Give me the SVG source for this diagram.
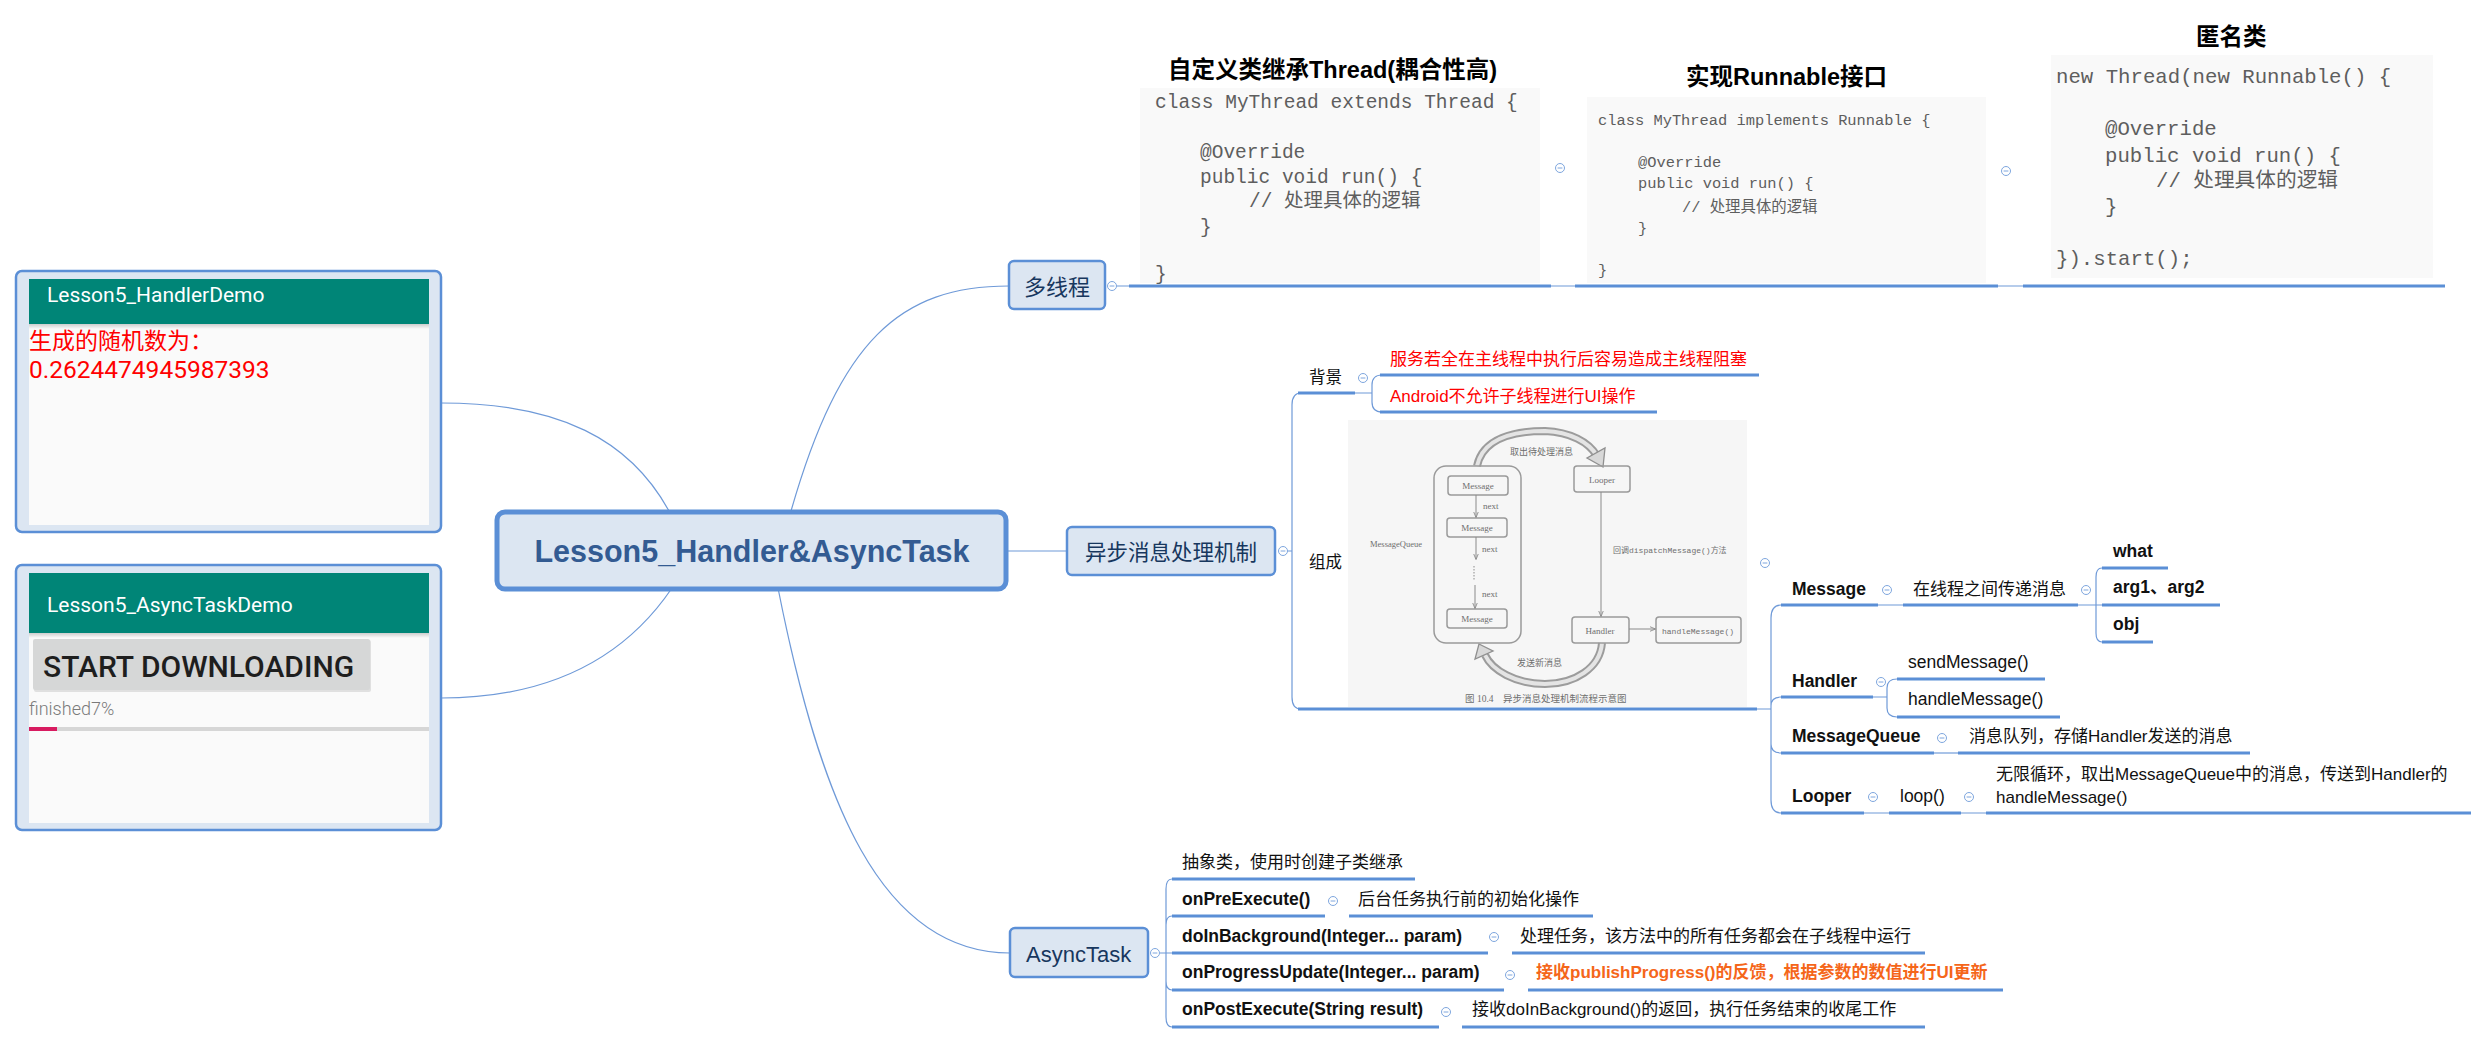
<svg xmlns="http://www.w3.org/2000/svg" width="2489" height="1044" viewBox="0 0 2489 1044">
<style>
text{font-family:"Liberation Sans","Noto Sans CJK SC",sans-serif;fill:#111}
.b{font-weight:bold}
.r17{font-size:17px}
.b17{font-size:17.5px;font-weight:bold}
.red{fill:#ff0000}
.code{font-family:"Liberation Mono","Noto Sans CJK SC",monospace;fill:#5e5e5e}
.ul{stroke:#5b8fd6;stroke-width:3;fill:none}
.ln{stroke:#6f9ad8;stroke-width:1.2;fill:none}
.node{fill:#dce6f2;stroke:#5b8fd6;stroke-width:2.5}
.ntx{fill:#17375e;font-size:22px}
.ttl{font-size:23.5px;font-weight:bold;fill:#000}
.shot{fill:#f9f9f9}
.img text{font-family:"Liberation Serif","Noto Sans CJK SC",serif;fill:#6e6e6e;font-size:9px}
.ib{fill:none;stroke:#9a9a9a;stroke-width:1.5}
.ia{stroke:#8a8a8a;stroke-width:1;marker-end:url(#ah)}
.rob{font-family:Roboto,"Noto Sans CJK SC",sans-serif}
</style>
<defs>
<g id="col"><circle r="4.5" fill="#fff" stroke="#7ea6de" stroke-width="1"/><line x1="-2.4" x2="2.4" y1="0" y2="0" stroke="#7ea6de" stroke-width="1"/></g>
<marker id="ah" viewBox="0 0 10 10" refX="9" refY="5" markerWidth="6" markerHeight="6" orient="auto"><path d="M0,1 L10,5 L0,9" fill="none" stroke="#8a8a8a" stroke-width="1.5"/></marker>
<linearGradient id="sh" x1="0" y1="0" x2="0" y2="1"><stop offset="0" stop-color="#000" stop-opacity="0.18"/><stop offset="1" stop-color="#000" stop-opacity="0"/></linearGradient>
</defs>

<!-- connectors -->
<g id="connectors">
<path class="ln" d="M441,403 C560,403 630,440 669,511"/>
<path class="ln" d="M441,698 C560,698 630,650 672,588"/>
<path class="ln" d="M791,511 C840,340 900,286 1009,286"/>
<path class="ln" d="M1006,551 L1067,551"/>
<path class="ln" d="M778,588 C820,800 880,953 1010,953"/>
<path class="ln" d="M1117,286 L1129,286 M1551,286 L1575,286 M1998,286 L2023,286"/>
<path class="ln" d="M1287,551 L1292,551 M1301,393 Q1292,393 1292,405 L1292,697 Q1292,709 1301,709"/>
<path class="ln" d="M1355,393 L1372,393 M1382,375 Q1372,375 1372,385 L1372,402 Q1372,412 1382,412"/>
<path class="ln" d="M1757,709 L1771,709 M1781,605 Q1771,605 1771,618 L1771,800 Q1771,813 1781,813 M1771,706 Q1771,697 1781,697 M1771,744 Q1771,753 1781,753"/>
<path class="ln" d="M1878,605 L1903,605 M2078,605 L2102,605 M2102,568 Q2096,568 2096,577 L2096,633 Q2096,642 2102,642"/>
<path class="ln" d="M1873,697 L1887,697 M1897,679 Q1887,679 1887,688 L1887,708 Q1887,717 1897,717"/>
<path class="ln" d="M1934,753 L1958,753"/>
<path class="ln" d="M1864,813 L1889,813 M1961,813 L1986,813"/>
<path class="ln" d="M1160,953 L1172,953 M1172,879 Q1166,879 1166,889 L1166,1017 Q1166,1027 1172,1027 M1166,925 Q1166,916 1172,916 M1166,981 Q1166,990 1172,990"/>
</g>

<!-- left card: HandlerDemo -->
<g id="card-handler">
<rect x="16" y="271" width="425" height="261" rx="6" fill="#dce6f2" stroke="#5b8fd6" stroke-width="2.5"/>
<rect x="29" y="279" width="400" height="246" fill="#fafafa"/>
<rect x="29" y="279" width="400" height="45" fill="#008577"/>
<rect x="29" y="324" width="400" height="5" fill="url(#sh)"/>
<text class="rob" x="47" y="302" style="font-size:21px;fill:#fff">Lesson5_HandlerDemo</text>
<text x="29" y="349" class="red" style="font-size:23px;font-family:'Noto Sans CJK SC',sans-serif">生成的随机数为：</text>
<text x="29" y="378" class="red rob" style="font-size:24.5px">0.2624474945987393</text>
</g>

<!-- left card: AsyncTaskDemo -->
<g id="card-async">
<rect x="16" y="565" width="425" height="265" rx="6" fill="#dce6f2" stroke="#5b8fd6" stroke-width="2.5"/>
<rect x="29" y="573" width="400" height="250" fill="#fafafa"/>
<rect x="29" y="573" width="400" height="60" fill="#008577"/>
<rect x="29" y="633" width="400" height="5" fill="url(#sh)"/>
<text class="rob" x="47" y="612" style="font-size:21px;fill:#fff">Lesson5_AsyncTaskDemo</text>
<rect x="34" y="640" width="337" height="52" rx="2" fill="#e0e0e0"/>
<rect x="33" y="639" width="337" height="51" rx="2" fill="#d6d7d7"/>
<text class="rob" x="43" y="677" style="font-size:30px;font-weight:500;fill:#1e1e1e">START DOWNLOADING</text>
<text class="rob" x="29" y="715" style="font-size:18px;fill:#7a7a7a;font-weight:300">finished7%</text>
<rect x="29" y="727" width="400" height="4" fill="#d6d6d6"/>
<rect x="29" y="727" width="28" height="4" fill="#d81b60"/>
</g>

<!-- central topic -->
<g id="root">
<rect x="497" y="512" width="509" height="77" rx="8" fill="#dce6f2" stroke="#5b8fd6" stroke-width="5"/>
<text x="752" y="562" text-anchor="middle" class="b" style="font-size:30.5px;fill:#335b92">Lesson5_Handler&amp;AsyncTask</text>
</g>

<!-- 多线程 -->
<g id="node-multithread">
<rect class="node" x="1009" y="261" width="96" height="48" rx="5"/>
<text class="ntx" x="1057" y="295" text-anchor="middle">多线程</text>
<use href="#col" x="1112" y="286"/>
</g>

<g id="node-thread-extends">
<text class="ttl" x="1168" y="78">自定义类继承Thread(耦合性高)</text>
<rect class="shot" x="1140" y="88" width="400" height="195"/>
<g style="font-size:19.5px">
<text class="code" x="1155" y="108">class MyThread extends Thread {</text>
<text class="code" x="1200" y="158">@Override</text>
<text class="code" x="1200" y="183">public void run() {</text>
<text class="code" x="1249" y="207">// 处理具体的逻辑</text>
<text class="code" x="1200" y="233">}</text>
<text class="code" x="1155" y="280">}</text>
</g>
<line class="ul" x1="1129" y1="286" x2="1551" y2="286"/>
<use href="#col" x="1560" y="168"/>
</g>

<g id="node-runnable">
<text class="ttl" x="1686" y="85">实现Runnable接口</text>
<rect class="shot" x="1587" y="97" width="399" height="186"/>
<g style="font-size:15.4px">
<text class="code" x="1598" y="125">class MyThread implements Runnable {</text>
<text class="code" x="1638" y="167">@Override</text>
<text class="code" x="1638" y="188">public void run() {</text>
<text class="code" x="1682" y="212">// 处理具体的逻辑</text>
<text class="code" x="1638" y="233">}</text>
<text class="code" x="1598" y="275">}</text>
</g>
<line class="ul" x1="1575" y1="286" x2="1998" y2="286"/>
<use href="#col" x="2006" y="171"/>
</g>

<g id="node-anonymous">
<text class="ttl" x="2196" y="45">匿名类</text>
<rect class="shot" x="2051" y="55" width="382" height="223"/>
<g style="font-size:20.7px">
<text class="code" x="2056" y="83">new Thread(new Runnable() {</text>
<text class="code" x="2105" y="135">@Override</text>
<text class="code" x="2105" y="162">public void run() {</text>
<text class="code" x="2156" y="187">// 处理具体的逻辑</text>
<text class="code" x="2105" y="213">}</text>
<text class="code" x="2056" y="265">}).start();</text>
</g>
<line class="ul" x1="2023" y1="286" x2="2445" y2="286"/>
</g>

<!-- 异步消息处理机制 -->
<g id="node-async-msg">
<rect class="node" x="1067" y="527" width="208" height="48" rx="5"/>
<text class="ntx" x="1171" y="560" text-anchor="middle" style="font-size:21.5px">异步消息处理机制</text>
<use href="#col" x="1283" y="551"/>
</g>

<g id="node-background">
<text x="1309" y="383" style="font-size:16.5px">背景</text>
<line class="ul" x1="1298" y1="393" x2="1355" y2="393"/>
<use href="#col" x="1363" y="378"/>
</g>
<g id="node-bg1">
<text x="1390" y="365" class="r17 red">服务若全在主线程中执行后容易造成主线程阻塞</text>
<line class="ul" x1="1380" y1="375" x2="1759" y2="375"/>
</g>
<g id="node-bg2">
<text x="1390" y="402" class="r17 red">Android不允许子线程进行UI操作</text>
<line class="ul" x1="1380" y1="412" x2="1657" y2="412"/>
</g>

<g id="node-compose">
<text x="1309" y="568" style="font-size:16.5px">组成</text>
<g class="img">
<rect x="1348" y="420" width="399" height="287" fill="#f6f6f6"/>
<path d="M1477,466 C1483,438 1515,431 1545,431 C1570,432 1589,442 1597,456" fill="none" stroke="#9c9c9c" stroke-width="8"/>
<path d="M1477,466 C1483,438 1515,431 1545,431 C1570,432 1589,442 1597,456" fill="none" stroke="#e4e4e4" stroke-width="4"/>
<polygon points="1603,467 1605,448 1587,458" fill="#d8d8d8" stroke="#8f8f8f" stroke-width="1.3"/>
<path d="M1602,643 C1600,668 1575,684 1545,684 C1515,684 1492,670 1485,655" fill="none" stroke="#9c9c9c" stroke-width="8"/>
<path d="M1602,643 C1600,668 1575,684 1545,684 C1515,684 1492,670 1485,655" fill="none" stroke="#e4e4e4" stroke-width="4"/>
<polygon points="1479,644 1493,651 1475,659" fill="#d8d8d8" stroke="#8f8f8f" stroke-width="1.3"/>
<rect class="ib" x="1434" y="466" width="87" height="177" rx="12"/>
<rect class="ib" x="1448" y="476" width="60" height="19" rx="3"/>
<rect class="ib" x="1447" y="518" width="60" height="19" rx="3"/>
<rect class="ib" x="1447" y="609" width="60" height="19" rx="3"/>
<text x="1478" y="489" text-anchor="middle">Message</text>
<text x="1477" y="531" text-anchor="middle">Message</text>
<text x="1477" y="622" text-anchor="middle">Message</text>
<line class="ia" x1="1476" y1="495" x2="1476" y2="517"/>
<line class="ia" x1="1476" y1="537" x2="1476" y2="559"/>
<line x1="1474" y1="566" x2="1474" y2="580" stroke="#8a8a8a" stroke-dasharray="1.5 1.5"/>
<line class="ia" x1="1475" y1="585" x2="1475" y2="608"/>
<text x="1483" y="509">next</text>
<text x="1482" y="552">next</text>
<text x="1482" y="597">next</text>
<text x="1370" y="547" style="font-size:8.5px">MessageQueue</text>
<rect class="ib" x="1574" y="466" width="56" height="26" rx="3"/>
<text x="1602" y="483" text-anchor="middle">Looper</text>
<rect class="ib" x="1572" y="617" width="57" height="26" rx="3"/>
<text x="1600" y="634" text-anchor="middle">Handler</text>
<rect class="ib" x="1656" y="617" width="85" height="26" rx="3"/>
<text x="1698" y="634" text-anchor="middle" style="font-family:'Liberation Mono',monospace;font-size:8px">handleMessage()</text>
<line class="ia" x1="1601" y1="492" x2="1601" y2="616"/>
<line class="ia" x1="1629" y1="629" x2="1655" y2="629"/>
<text x="1613" y="553" style="font-size:8px">回调<tspan style="font-family:'Liberation Mono',monospace">dispatchMessage()</tspan>方法</text>
<text x="1510" y="455">取出待处理消息</text>
<text x="1517" y="666">发送新消息</text>
<text x="1465" y="702" style="font-size:9.5px">图 10.4　异步消息处理机制流程示意图</text>
</g>
<line class="ul" x1="1298" y1="709" x2="1757" y2="709"/>
<use href="#col" x="1765" y="563"/>
</g>

<g id="node-message">
<text class="b17" x="1792" y="595">Message</text>
<line class="ul" x1="1781" y1="605" x2="1878" y2="605"/>
<use href="#col" x="1887" y="590"/>
</g>
<g id="node-message-desc">
<text class="r17" x="1913" y="595">在线程之间传递消息</text>
<line class="ul" x1="1903" y1="605" x2="2078" y2="605"/>
<use href="#col" x="2086" y="590"/>
</g>
<g id="node-what"><text class="b17" x="2113" y="557">what</text><line class="ul" x1="2102" y1="568" x2="2168" y2="568"/></g>
<g id="node-arg"><text class="b17" x="2113" y="593">arg1、arg2</text><line class="ul" x1="2102" y1="605" x2="2220" y2="605"/></g>
<g id="node-obj"><text class="b17" x="2113" y="630">obj</text><line class="ul" x1="2102" y1="642" x2="2153" y2="642"/></g>

<g id="node-handler">
<text class="b17" x="1792" y="687">Handler</text>
<line class="ul" x1="1781" y1="697" x2="1873" y2="697"/>
<use href="#col" x="1881" y="682"/>
</g>
<g id="node-send"><text class="r17" x="1908" y="668" style="font-size:17.5px">sendMessage()</text><line class="ul" x1="1897" y1="679" x2="2045" y2="679"/></g>
<g id="node-handle"><text class="r17" x="1908" y="705" style="font-size:17.5px">handleMessage()</text><line class="ul" x1="1897" y1="717" x2="2060" y2="717"/></g>

<g id="node-mq">
<text class="b17" x="1792" y="742">MessageQueue</text>
<line class="ul" x1="1781" y1="753" x2="1934" y2="753"/>
<use href="#col" x="1942" y="738"/>
</g>
<g id="node-mq-desc"><text class="r17" x="1969" y="742">消息队列，存储Handler发送的消息</text><line class="ul" x1="1958" y1="753" x2="2250" y2="753"/></g>

<g id="node-looper">
<text class="b17" x="1792" y="802">Looper</text>
<line class="ul" x1="1781" y1="813" x2="1864" y2="813"/>
<use href="#col" x="1873" y="797"/>
</g>
<g id="node-loop">
<text class="r17" x="1900" y="802" style="font-size:17.5px">loop()</text>
<line class="ul" x1="1889" y1="813" x2="1961" y2="813"/>
<use href="#col" x="1969" y="797"/>
</g>
<g id="node-loop-desc">
<text class="r17" x="1996" y="780">无限循环，取出MessageQueue中的消息，传送到Handler的</text>
<text class="r17" x="1996" y="803">handleMessage()</text>
<line class="ul" x1="1986" y1="813" x2="2471" y2="813"/>
</g>

<!-- AsyncTask -->
<g id="node-asynctask">
<rect class="node" x="1010" y="928" width="138" height="49" rx="5"/>
<text class="ntx" x="1026" y="962">AsyncTask</text>
<use href="#col" x="1155" y="953"/>
</g>
<g id="node-abstract"><text class="r17" x="1182" y="868">抽象类，使用时创建子类继承</text><line class="ul" x1="1172" y1="879" x2="1415" y2="879"/></g>
<g id="node-pre">
<text class="b17" x="1182" y="905">onPreExecute()</text>
<line class="ul" x1="1172" y1="916" x2="1325" y2="916"/>
<use href="#col" x="1333" y="901"/>
</g>
<g id="node-pre-desc"><text class="r17" x="1358" y="905">后台任务执行前的初始化操作</text><line class="ul" x1="1349" y1="916" x2="1593" y2="916"/></g>
<g id="node-bg">
<text class="b17" x="1182" y="942">doInBackground(Integer... param)</text>
<line class="ul" x1="1172" y1="953" x2="1488" y2="953"/>
<use href="#col" x="1494" y="937"/>
</g>
<g id="node-bg-desc"><text class="r17" x="1520" y="942">处理任务，该方法中的所有任务都会在子线程中运行</text><line class="ul" x1="1512" y1="953" x2="1925" y2="953"/></g>
<g id="node-progress">
<text class="b17" x="1182" y="978">onProgressUpdate(Integer... param)</text>
<line class="ul" x1="1172" y1="990" x2="1504" y2="990"/>
<use href="#col" x="1510" y="975"/>
</g>
<g id="node-progress-desc"><text class="b17" x="1536" y="978" style="fill:#f5661a;font-size:17px">接收publishProgress()的反馈，根据参数的数值进行UI更新</text><line class="ul" x1="1528" y1="990" x2="2003" y2="990"/></g>
<g id="node-post">
<text class="b17" x="1182" y="1015">onPostExecute(String result)</text>
<line class="ul" x1="1172" y1="1027" x2="1439" y2="1027"/>
<use href="#col" x="1446" y="1012"/>
</g>
<g id="node-post-desc"><text class="r17" x="1472" y="1015">接收doInBackground()的返回，执行任务结束的收尾工作</text><line class="ul" x1="1462" y1="1027" x2="1925" y2="1027"/></g>
</svg>
